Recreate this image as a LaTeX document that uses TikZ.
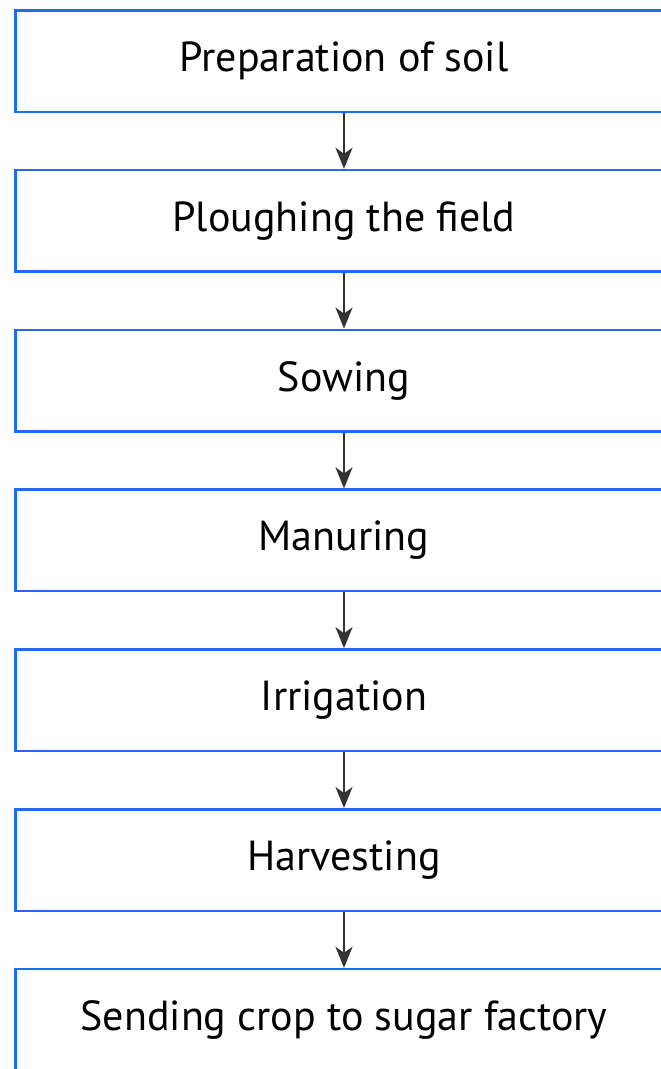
\documentclass[tikz,border=0pt]{standalone}
\usepackage{fontspec}
\setmainfont{PT Sans}
\usetikzlibrary{arrows.meta}
\definecolor{boxblue}{RGB}{30,108,240}
\definecolor{arrowgray}{RGB}{51,51,51}
\begin{document}
\begin{tikzpicture}[x=1pt, y=1pt,
		stagebox/.style={draw=boxblue, line width=2.5pt, minimum width=657.5pt, minimum height=101.5pt, inner sep=0pt, font=\fontsize{42}{50}\selectfont},
		flow/.style={arrowgray, line width=2pt, -{Stealth[length=21pt, width=17pt, inset=6pt]}}]
			\useasboundingbox (0,0) rectangle (661,-1069);
			%stages
			\foreach \i/\t in {1/Preparation of soil, 2/Ploughing the field, 3/Sowing, 4/Manuring, 5/Irrigation, 6/Harvesting, 7/Sending crop to sugar factory}{
				\node[stagebox] (s\i) at (344, {-61-159.8*(\i-1)}){\t};
			}
			%arrows
			\foreach \i [evaluate=\i as \j using int(\i+1)] in {1, 2, ..., 6}{
				\draw[flow] (s\i.south) -- (s\j.north);
			}
		\end{tikzpicture}
\end{document}
